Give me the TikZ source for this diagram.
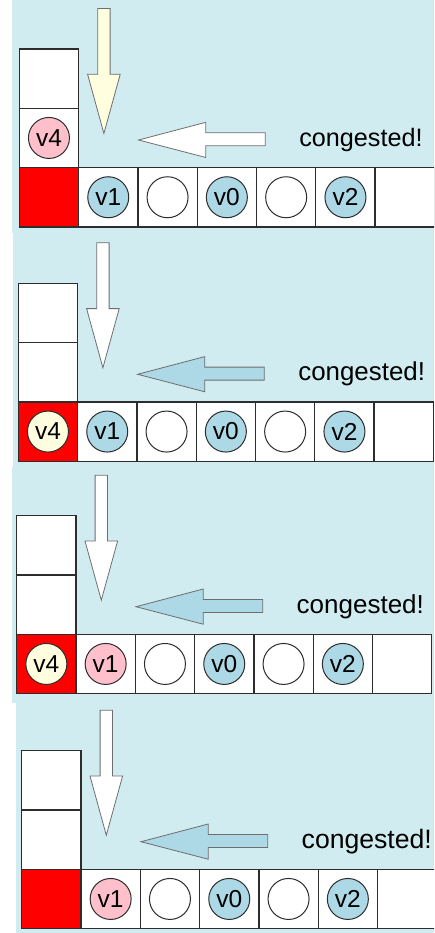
\documentclass[tikz,border=0pt]{standalone}
\usepackage{fontspec}
\setmainfont{Liberation Sans}
\definecolor{panelbg}{RGB}{208,236,240}
\definecolor{slotred}{RGB}{255,0,0}
\definecolor{vblue}{RGB}{173,216,230}
\definecolor{vpink}{RGB}{255,192,203}
\definecolor{vcream}{RGB}{255,255,224}
\definecolor{edge}{RGB}{45,45,45}
\definecolor{arrowedge}{RGB}{110,110,110}
\tikzset{
  cell/.style={draw=edge, line width=1.3pt, fill=white, minimum size=59.3pt,
    inner sep=0pt, outer sep=0pt, anchor=north west},
  vc/.style={circle, draw=edge, line width=1pt, minimum size=41pt, inner sep=0pt,
    font=\fontsize{24.5}{24.5}\selectfont},
  blockarrow/.style={draw=arrowedge, line width=0.8pt, line join=miter},
  msg/.style={anchor=base west, inner sep=0pt},
}
% #1 name prefix, #2/#3 top-left corner of the column,
% #4 extra nodes, #5 fill of v1, #6 down-arrow fill, #7 left-arrow fill, #8 text size
\newcommand\busypanel[8]{%
  \begin{scope}[shift={(#2,#3)}]
    \node[cell] (#1-top) at (0,0) {};
    \node[cell] (#1-mid) at (0,59.3) {};
    \node[cell, fill=slotred] (#1-red) at (0,118.6) {};
    \foreach \i in {1,...,6} \node[cell] (#1-r\i) at (\i*59.3,118.6) {};
    \node[vc, fill=#5] (#1-v1) at (#1-r1.center) {v1};
    \node[vc, fill=white] (#1-e1) at (#1-r2.center) {};
    \node[vc, fill=vblue] (#1-v0) at (#1-r3.center) {v0};
    \node[vc, fill=white] (#1-e2) at (#1-r4.center) {};
    \node[vc, fill=vblue] (#1-v2) at (#1-r5.center) {v2};
    #4
    % downward block arrow
    \draw[blockarrow, fill=#6] (78.4,-40.5) -- (90.8,-40.5) -- (90.8,25.3) -- (100.9,25.3)
      -- (84.6,84.5) -- (68.3,25.3) -- (78.4,25.3) -- cycle;
    % leftward block arrow
    \draw[blockarrow, fill=#7] (119.3,91) -- (186.5,73.3) -- (186.5,83.8) -- (246,83.8)
      -- (246,96.8) -- (186.5,96.8) -- (186.5,108.5) -- cycle;
    \node[msg, font=\fontsize{#8}{#8}\selectfont] (#1-msg) at (279.8,97.4) {congested!};
  \end{scope}%
}
\begin{document}
\begin{tikzpicture}[x=1pt, y=-1pt]
  \useasboundingbox (0,0) rectangle (434,933);
  \clip (0,0) rectangle (434,933);
  % panel backgrounds
  \fill[panelbg] (12,0) rectangle (434,233);
  \fill[panelbg] (13,233) rectangle (434,467);
  \fill[panelbg] (12,467) rectangle (434,703);
  \fill[panelbg] (16,703) rectangle (434,933);
  % four steps
  \busypanel{p1}{19.3}{49}{\node[vc, fill=vpink] (p1-v4) at (p1-mid.center) {v4};}
    {vblue}{vcream}{white}{25.2}
  \busypanel{p2}{18.3}{283.3}{\node[vc, fill=vcream] (p2-v4) at (p2-red.center) {v4};}
    {vblue}{white}{vblue}{25.9}
  \busypanel{p3}{16.7}{515.7}{\node[vc, fill=vcream] (p3-v4) at (p3-red.center) {v4};}
    {vpink}{white}{vblue}{26}
  \busypanel{p4}{21.7}{750.7}{}
    {vpink}{white}{vblue}{26.6}
\end{tikzpicture}
\end{document}
